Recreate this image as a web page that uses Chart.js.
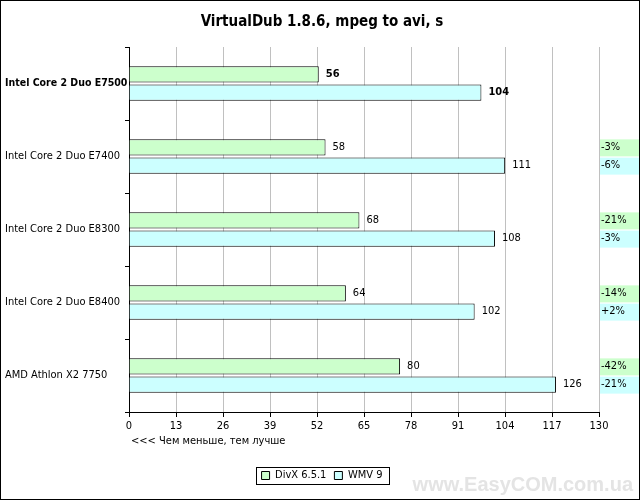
<!DOCTYPE html>
<html><head><meta charset="utf-8">
<script src="https://cdn.jsdelivr.net/npm/chart.js@4"></script>
<style>
html,body{margin:0;padding:0;background:#fff}
#wrap{width:638px;height:498px;border:1px solid #000;position:relative}
</style></head>
<body><div id="wrap"><canvas id="c" width="638" height="498"></canvas></div>
<script>
const categories = ["Intel Core 2 Duo E7500", "Intel Core 2 Duo E7400", "Intel Core 2 Duo E8300", "Intel Core 2 Duo E8400", "AMD Athlon X2 7750"];
const divxValues = [56, 58, 68, 64, 80];
const wmvValues = [104, 111, 108, 102, 126];
const divxPercent = ["", "-3%", "-21%", "-14%", "-42%"];
const wmvPercent = ["", "-6%", "-3%", "+2%", "-21%"];
const tickLabels = ["0", "13", "26", "39", "52", "65", "78", "91", "104", "117", "130"];
// bars in the original are drawn shorter than the printed axis says
const axisMax = 138.7;

const FONT = "'DejaVu Sans Condensed', Tahoma, sans-serif";

const extras = {
  id: "extras",
  afterDatasetsDraw(chart) {
    const ctx = chart.ctx;
    const area = chart.chartArea;
    ctx.save();
    ctx.textBaseline = "middle";
    chart.data.datasets.forEach((ds, di) => {
      const meta = chart.getDatasetMeta(di);
      const pct = di === 0 ? divxPercent : wmvPercent;
      meta.data.forEach((bar, i) => {
        ctx.font = (i === 0 ? "bold " : "") + "11px " + FONT;
        ctx.fillStyle = "#000";
        ctx.textAlign = "left";
        ctx.fillText(ds.data[i], bar.x + 7, bar.y);
        if (pct[i]) {
          ctx.fillStyle = ds.backgroundColor;
          ctx.fillRect(area.right + 1, bar.y - 8, 40, 17);
          ctx.fillStyle = "#000";
          ctx.font = "11px " + FONT;
          ctx.fillText(pct[i], area.right + 2, bar.y);
        }
      });
    });
    ctx.font = "11px " + FONT;
    ctx.fillStyle = "#000";
    ctx.fillText("<<< Чем меньше, тем лучше", area.left + 2, area.bottom + 29);
    ctx.font = "bold 20px Arial, 'Liberation Sans', sans-serif";
    ctx.fillStyle = "#e4e4e4";
    ctx.textAlign = "right";
    ctx.fillText("www.EasyCOM.com.ua", 632, 484);
    const boxes = chart.legend.legendHitBoxes;
    if (boxes && boxes.length) {
      const l = boxes[0].left - 6, r = boxes[boxes.length - 1].left + boxes[boxes.length - 1].width + 6;
      const t = boxes[0].top - 3;
      ctx.strokeStyle = "#000";
      ctx.lineWidth = 1;
      ctx.strokeRect(Math.round(l) + 0.5, Math.round(t) + 0.5, Math.round(r - l), 17);
    }
    ctx.restore();
  }
};

new Chart(document.getElementById("c"), {
  type: "bar",
  data: {
    labels: categories,
    datasets: [
      { label: "DivX 6.5.1", data: divxValues, backgroundColor: "#ccffcc", borderColor: "#000", borderWidth: 1, categoryPercentage: 0.5, barPercentage: 0.89 },
      { label: "WMV 9", data: wmvValues, backgroundColor: "#ccffff", borderColor: "#000", borderWidth: 1, categoryPercentage: 0.5, barPercentage: 0.89 }
    ]
  },
  options: {
    indexAxis: "y",
    responsive: false,
    animation: false,
    layout: { padding: { left: 4, right: 0, top: 0, bottom: 8 } },
    plugins: {
      title: { display: true, text: "VirtualDub 1.8.6, mpeg to avi, s", color: "#000",
        font: { family: FONT, size: 15, weight: "bold" }, padding: { top: 12, bottom: 16 } },
      legend: { position: "bottom", labels: { color: "#000", boxWidth: 8, boxHeight: 8, padding: 8,
        font: { family: FONT, size: 11 } } },
      tooltip: { enabled: false }
    },
    scales: {
      x: {
        min: 0, max: axisMax,
        ticks: { stepSize: axisMax / 10, color: "#000", font: { family: FONT, size: 11 },
          callback: (v, i) => tickLabels[i] },
        grid: { color: "#c0c0c0", tickColor: "#000", tickLength: 5 },
        border: { color: "#000" },
        afterFit(s) { s.height = 50; }
      },
      y: {
        ticks: { color: "#000", crossAlign: "far", font: (c) => ({ family: FONT, size: c.index === 0 ? 10.5 : 11, weight: c.index === 0 ? "bold" : "normal" }), padding: 2 },
        grid: { display: true, drawOnChartArea: false, offset: true, tickLength: 4, tickColor: "#000" },
        border: { color: "#000" },
        afterFit(s) { s.width = 124; }
      },
      spacer: {
        axis: "y", position: "right", display: true,
        ticks: { display: false }, grid: { display: false }, border: { display: false },
        afterFit(s) { s.width = 40; }
      }
    }
  },
  plugins: [extras]
});
</script></body></html>
